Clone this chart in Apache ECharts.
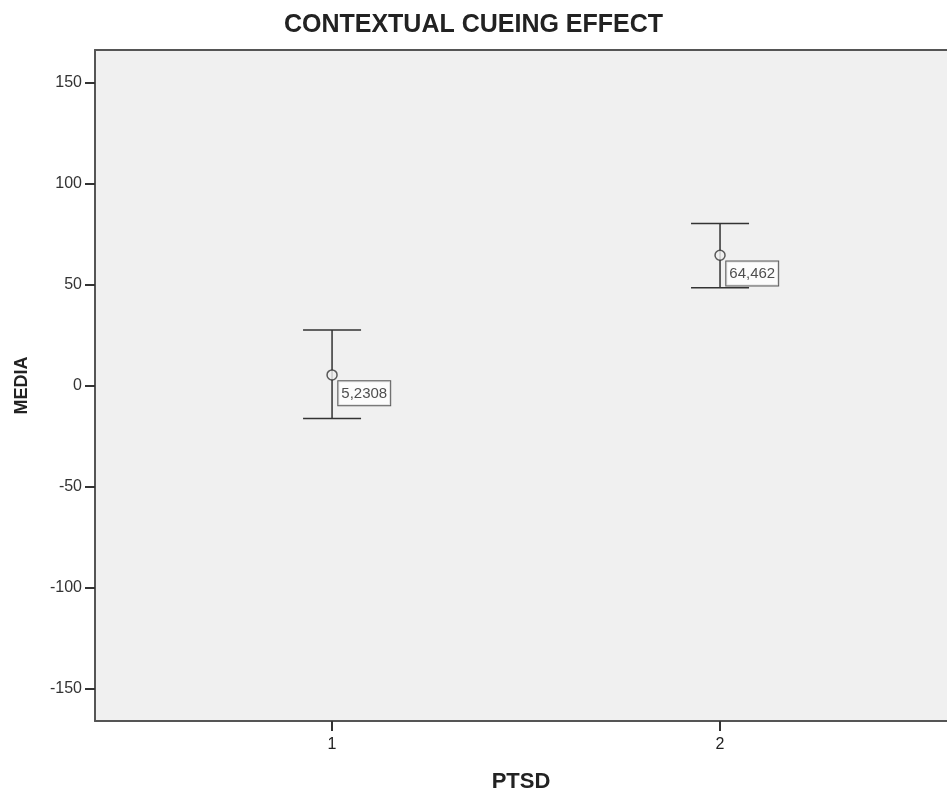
<!DOCTYPE html>
<html>
<head>
<meta charset="utf-8">
<script src="https://cdn.jsdelivr.net/npm/echarts@6/dist/echarts.min.js"></script>
<style>html,body{margin:0;padding:0;background:#fff}#c{width:947px;height:792px}</style>
</head>
<body>
<div id="c"></div>
<script>
var categories = [1, 2];
var means = [5.2308, 64.462];
var meanLabels = ['5,2308', '64,462'];
var upper = [27.4, 80.2];
var lower = [-16.3, 48.4];
var yTicks = [-150, -100, -50, 0, 50, 100, 150];

var chart = echarts.init(document.getElementById('c'));
var FONT = '"Liberation Sans", Arial, sans-serif';
var errData = categories.map(function (c, i) { return [c, lower[i], upper[i]]; });
var meanData = categories.map(function (c, i) { return [c, means[i]]; });

chart.setOption({
  animation: false,
  backgroundColor: '#ffffff',
  title: {
    text: 'CONTEXTUAL CUEING EFFECT',
    left: 'center',
    top: 8,
    textStyle: { fontFamily: FONT, fontSize: 25, fontWeight: 'bold', color: '#222' }
  },
  grid: {
    left: 95, top: 50, right: 0, height: 671,
    outerBoundsMode: 'none', containLabel: false,
    show: true, backgroundColor: '#f0f0f0', borderWidth: 0
  },
  xAxis: [{
    type: 'value', min: 0.389, max: 2.585,
    name: 'PTSD', nameLocation: 'middle', nameGap: 50,
    nameTextStyle: { fontFamily: FONT, fontSize: 22, fontWeight: 'bold', color: '#222' },
    axisLine: { show: true, onZero: false, lineStyle: { color: '#555', width: 2 } },
    axisTick: { show: true, length: 10, customValues: categories, lineStyle: { color: '#333', width: 2 } },
    axisLabel: { customValues: categories, margin: 16, fontFamily: FONT, fontSize: 16, color: '#222' },
    splitLine: { show: false }
  }, {
    type: 'value', position: 'top', min: 0.389, max: 2.585,
    axisLine: { show: true, onZero: false, lineStyle: { color: '#555', width: 2 } },
    axisTick: { show: false }, axisLabel: { show: false }, splitLine: { show: false }
  }],
  yAxis: {
    type: 'value', min: -166, max: 166,
    name: 'MEDIA', nameLocation: 'middle', nameGap: 64,
    nameTextStyle: { fontFamily: FONT, fontSize: 18, fontWeight: 'bold', color: '#222' },
    axisLine: { show: true, onZero: false, lineStyle: { color: '#555', width: 2 } },
    axisTick: { show: true, length: 10, customValues: yTicks, lineStyle: { color: '#333', width: 2 } },
    axisLabel: { customValues: yTicks, margin: 13, fontFamily: FONT, fontSize: 16, color: '#333' },
    splitLine: { show: false }
  },
  series: [
    {
      type: 'custom',
      data: errData,
      renderItem: function (params, api) {
        var x = api.value(0);
        var lo = api.coord([x, api.value(1)]);
        var hi = api.coord([x, api.value(2)]);
        var hw = 29;
        var st = { stroke: '#333', lineWidth: 1.5 };
        return {
          type: 'group',
          children: [
            { type: 'line', shape: { x1: lo[0], y1: lo[1], x2: hi[0], y2: hi[1] }, style: st },
            { type: 'line', shape: { x1: hi[0] - hw, y1: hi[1], x2: hi[0] + hw, y2: hi[1] }, style: st },
            { type: 'line', shape: { x1: lo[0] - hw, y1: lo[1], x2: lo[0] + hw, y2: lo[1] }, style: st }
          ]
        };
      },
      z: 2
    },
    {
      type: 'scatter',
      data: meanData,
      symbol: 'circle',
      symbolSize: 10,
      itemStyle: { color: '#f0f0f0', borderColor: '#333', borderWidth: 1.5 },
      label: {
        show: true,
        position: [12, 12],
        formatter: function (p) { return meanLabels[p.dataIndex]; },
        fontFamily: FONT, fontSize: 15, color: '#222',
        backgroundColor: '#ffffff', borderColor: '#333', borderWidth: 1,
        padding: [5, 3, 4, 3]
      },
      z: 3
    }
  ]
});
</script>
</body>
</html>
